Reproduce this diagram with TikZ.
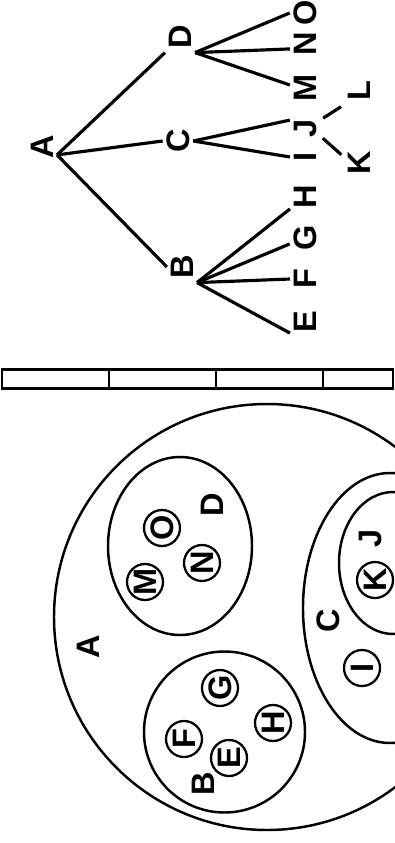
\documentclass[tikz,border=0pt]{standalone}
\usepackage{fontspec}
\setmainfont{Liberation Sans}

\begin{document}
\begin{tikzpicture}[
  x=0.02cm, y=-0.02cm,
  lbl/.style={font=\fontsize{18.5}{18.5}\selectfont\bfseries, rotate=90, inner sep=2pt},
  ring/.style={lbl, circle, draw, line width=1.3pt, minimum size=0.72cm, inner sep=0pt},
  ln/.style={line width=1.8pt},
  blob/.style={line width=1.4pt},
  bar/.style={line width=1.7pt}
]
  \useasboundingbox (0,0) rectangle (395,843);
  \fill[white] (0,0) rectangle (395,843);
  \clip (0,0) rectangle (395,843);

  % tree
  \node[lbl] (A) at (42,147) {A};
  \node[lbl] (D) at (180,37) {D};
  \node[lbl] (C) at (178,141) {C};
  \node[lbl] (B) at (182,267) {B};
  \node[lbl] (O) at (305,13) {O};
  \node[lbl] (N) at (305,44) {N};
  \node[lbl] (M) at (305,88) {M};
  \node[lbl] (J) at (305,128) {J};
  \node[lbl] (I) at (305,157) {I};
  \node[lbl] (H) at (305,197) {H};
  \node[lbl] (G) at (305,238) {G};
  \node[lbl] (F) at (305,279) {F};
  \node[lbl] (E) at (305,322) {E};
  \node[lbl] (L) at (359,91) {L};
  \node[lbl] (K) at (359,163) {K};

  \draw[ln] ([yshift=-4.5pt]A.south) -- (D.north west);
  \draw[ln] ([yshift=-4.5pt]A.south) -- (C.north);
  \draw[ln] ([yshift=-4.5pt]A.south) -- (B.north);
  \draw[ln] (D.south west) -- (O.north);
  \draw[ln] (D.south west) -- ([yshift=-2.8pt]N.north);
  \draw[ln] (D.south west) -- ([yshift=1.7pt]M.north);
  \draw[ln] (C.south) -- ([yshift=4.5pt]J.north);
  \draw[ln] (C.south) -- (I.north);
  \draw[ln] (B.south west) -- ([yshift=-6.8pt]H.north);
  \draw[ln] (B.south west) -- ([yshift=-3.4pt]G.north);
  \draw[ln] (B.south west) -- (F.north);
  \draw[ln] (B.south west) -- ([yshift=-6.3pt]E.north);
  \draw[ln, shorten <=2pt, shorten >=2pt] ([yshift=4.5pt]J.south) -- (L.north west);
  \draw[ln, shorten <=2pt, shorten >=2pt] ([yshift=-4.5pt]J.south) -- ([yshift=3.4pt]K.north);

  % bar
  \draw[bar] (2,369) rectangle (393,388);
  \foreach \x in {109,216,323}
    \draw[bar] (\x,369) -- (\x,388);

  % sets
  \draw[blob] (267,617) circle [radius=213];
  \draw[blob] (180,546) ellipse [x radius=72, y radius=89];
  \draw[blob] (224.5,732) circle [radius=80.5];
  \draw[blob] (390,608) ellipse [x radius=87, y radius=135];
  \draw[blob] (393,563) ellipse [x radius=54, y radius=71];

  \node[lbl] (sA) at (88,647) {A};
  \node[lbl] (sD) at (212,505) {D};
  \node[lbl] (sB) at (203,784) {B};
  \node[lbl] (sC) at (328,621) {C};
  \node[lbl] (sJ) at (370,538) {J};

  \node[ring] (rO) at (162,528) {O};
  \node[ring] (rN) at (202,563) {N};
  \node[ring] (rM) at (145,582) {M};
  \node[ring] (rG) at (220,688) {G};
  \node[ring] (rH) at (273,723) {H};
  \node[ring] (rF) at (184,739) {F};
  \node[ring] (rE) at (229,758) {E};
  \node[ring] (rK) at (375,580) {K};
  \node[ring] (rI) at (362,668) {I};
\end{tikzpicture}
\end{document}
